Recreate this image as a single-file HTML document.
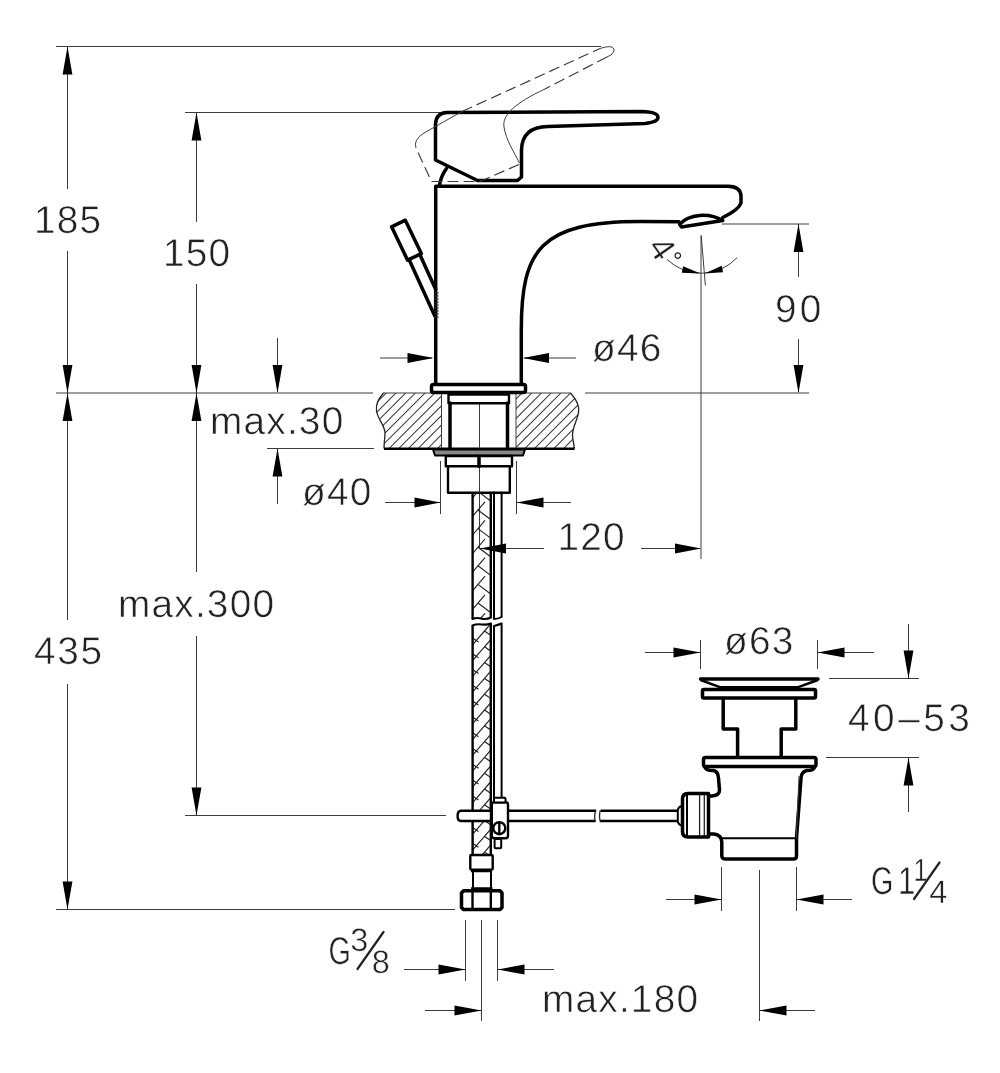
<!DOCTYPE html>
<html lang="en">
<head>
<meta charset="utf-8">
<title>Basin mixer – technical drawing</title>
<style>
html,body{margin:0;padding:0;background:#fff;}
body{width:1000px;height:1073px;overflow:hidden;}
svg{display:block;will-change:transform;filter:grayscale(1);}
svg text{font-family:"Liberation Sans",sans-serif;fill:#222;stroke:#fff;stroke-width:0.6px;paint-order:fill stroke;text-rendering:geometricPrecision;}
.t{stroke:#3c3c3c;stroke-width:1;fill:none;}
.td{stroke:#3c3c3c;stroke-width:1.15;fill:none;stroke-dasharray:11 5;}
.h{stroke:#333;stroke-width:1.05;fill:none;}
.h2{stroke:#222;stroke-width:1.15;fill:none;}
.s{stroke:#222;stroke-width:2.2;fill:none;stroke-linecap:round;}
.a{fill:#000;stroke:none;}
.m{stroke:#222;stroke-width:1.3;fill:none;}
.m2{stroke:#111;stroke-width:1.7;fill:none;}
.k{stroke:#000;stroke-width:3.5;fill:none;stroke-linejoin:round;stroke-linecap:round;}
.k25{stroke:#000;stroke-width:2.4;fill:none;stroke-linejoin:round;}
.k2{stroke:#000;stroke-width:2;fill:none;stroke-linejoin:round;stroke-linecap:round;}
</style>
</head>
<body>
<svg width="1000" height="1073" viewBox="0 0 1000 1073">
<rect x="0" y="0" width="1000" height="1073" fill="#fff"/>
<g id="dims">
<line class="t" x1="56" y1="46.5" x2="601" y2="46.5"/>
<line class="t" x1="185" y1="112.5" x2="443" y2="112.5"/>
<line class="t" x1="56" y1="393" x2="373" y2="393"/>
<line class="t" x1="585" y1="393" x2="809" y2="393"/>
<line class="t" x1="67.5" y1="46" x2="67.5" y2="189"/>
<line class="t" x1="67.5" y1="251" x2="67.5" y2="620"/>
<line class="t" x1="67.5" y1="684" x2="67.5" y2="909"/>
<polygon class="a" points="67.5,46.5 62.6,74.5 72.4,74.5"/>
<polygon class="a" points="67.5,393.0 62.6,365.0 72.4,365.0"/>
<polygon class="a" points="67.5,393.0 62.6,421.0 72.4,421.0"/>
<polygon class="a" points="67.5,909.5 62.6,881.5 72.4,881.5"/>
<line class="t" x1="196.5" y1="112" x2="196.5" y2="222"/>
<line class="t" x1="196.5" y1="284" x2="196.5" y2="572"/>
<line class="t" x1="196.5" y1="636" x2="196.5" y2="815"/>
<polygon class="a" points="196.5,112.5 191.6,140.5 201.4,140.5"/>
<polygon class="a" points="196.5,393.0 191.6,365.0 201.4,365.0"/>
<polygon class="a" points="196.5,393.0 191.6,421.0 201.4,421.0"/>
<polygon class="a" points="196.5,815.5 191.6,787.5 201.4,787.5"/>
<line class="t" x1="185" y1="815.5" x2="446" y2="815.5"/>
<line class="t" x1="56" y1="909.5" x2="455" y2="909.5"/>
<line class="t" x1="277.5" y1="338" x2="277.5" y2="392"/>
<polygon class="a" points="277.5,393.0 272.6,365.0 282.4,365.0"/>
<line class="t" x1="267" y1="448.5" x2="374" y2="448.5"/>
<line class="t" x1="277.5" y1="448" x2="277.5" y2="504"/>
<polygon class="a" points="277.5,448.5 272.6,476.5 282.4,476.5"/>
<line class="t" x1="380" y1="358" x2="432" y2="358"/>
<polygon class="a" points="433.5,358.0 407.5,353.1 407.5,362.9"/>
<line class="t" x1="524" y1="358" x2="576" y2="358"/>
<polygon class="a" points="523.0,358.0 549.0,353.1 549.0,362.9"/>
<line class="t" x1="722" y1="224" x2="809" y2="224"/>
<line class="t" x1="798.5" y1="224" x2="798.5" y2="277"/>
<line class="t" x1="798.5" y1="339" x2="798.5" y2="392"/>
<polygon class="a" points="798.5,224.0 793.6,252.0 803.4,252.0"/>
<polygon class="a" points="798.5,393.0 793.6,365.0 803.4,365.0"/>
<line class="t" x1="701" y1="235.5" x2="701" y2="559"/>
<line class="t" x1="701.2" y1="235.5" x2="705.4" y2="285.5"/>
<line class="t" x1="480" y1="548.5" x2="544" y2="548.5"/>
<polygon class="a" points="480.0,548.5 506.0,543.6 506.0,553.4"/>
<line class="t" x1="641" y1="548.5" x2="700" y2="548.5"/>
<polygon class="a" points="701.0,548.5 675.0,543.6 675.0,553.4"/>
<path class="t" d="M667,259.4 A49.3,49.3 0 0 0 737.2,257.6"/>
<polygon class="a" points="700.5,273.4 681.8,272.8 683.2,266.2"/>
<polygon class="a" points="704.5,273.4 723,272.2 721.8,265.8"/>
<line class="t" x1="385" y1="502.5" x2="440" y2="502.5"/>
<polygon class="a" points="440.5,502.5 414.5,497.6 414.5,507.4"/>
<line class="t" x1="516" y1="502.5" x2="571" y2="502.5"/>
<polygon class="a" points="516.5,502.5 543.5,497.6 543.5,507.4"/>
<line class="t" x1="440.5" y1="461" x2="440.5" y2="514"/>
<line class="t" x1="516.5" y1="461" x2="516.5" y2="514"/>
<line class="t" x1="465.5" y1="920" x2="465.5" y2="981"/>
<line class="t" x1="497.5" y1="920" x2="497.5" y2="981"/>
<line class="t" x1="481.5" y1="920" x2="481.5" y2="1021"/>
<line class="t" x1="404" y1="969.5" x2="465" y2="969.5"/>
<polygon class="a" points="465.5,969.5 438.5,964.6 438.5,974.4"/>
<line class="t" x1="497" y1="969.5" x2="554" y2="969.5"/>
<polygon class="a" points="497.5,969.5 524.5,964.6 524.5,974.4"/>
<line class="t" x1="425" y1="1010.5" x2="481" y2="1010.5"/>
<polygon class="a" points="481.5,1010.5 454.5,1005.6 454.5,1015.4"/>
<line class="t" x1="759" y1="1010.5" x2="815" y2="1010.5"/>
<polygon class="a" points="759.5,1010.5 786.5,1005.6 786.5,1015.4"/>
<line class="t" x1="759.5" y1="870" x2="759.5" y2="1021"/>
<line class="t" x1="721.5" y1="867" x2="721.5" y2="911"/>
<line class="t" x1="796.5" y1="867" x2="796.5" y2="911"/>
<line class="t" x1="666" y1="899.5" x2="721" y2="899.5"/>
<polygon class="a" points="721.5,899.5 694.5,894.6 694.5,904.4"/>
<line class="t" x1="796" y1="899.5" x2="852" y2="899.5"/>
<polygon class="a" points="796.5,899.5 823.5,894.6 823.5,904.4"/>
<line class="t" x1="645" y1="652.5" x2="700" y2="652.5"/>
<polygon class="a" points="700.5,652.5 673.5,647.6 673.5,657.4"/>
<line class="t" x1="817" y1="652.5" x2="874" y2="652.5"/>
<polygon class="a" points="817.5,652.5 844.5,647.6 844.5,657.4"/>
<line class="t" x1="700.5" y1="640" x2="700.5" y2="669"/>
<line class="t" x1="817.5" y1="640" x2="817.5" y2="669"/>
<line class="t" x1="908.5" y1="624" x2="908.5" y2="678"/>
<polygon class="a" points="908.5,678.5 903.6,650.5 913.4,650.5"/>
<line class="t" x1="829" y1="678.5" x2="919" y2="678.5"/>
<line class="t" x1="826" y1="757.5" x2="919" y2="757.5"/>
<line class="t" x1="908.5" y1="757" x2="908.5" y2="812"/>
<polygon class="a" points="908.5,757.5 903.6,785.5 913.4,785.5"/>
</g>
<g id="labels">
<text x="34" y="233" font-size="38.8" letter-spacing="1.2" text-anchor="start">185</text>
<text x="163" y="266" font-size="38.8" letter-spacing="1.2" text-anchor="start">150</text>
<text x="775" y="322" font-size="38.8" letter-spacing="3.2" text-anchor="start">90</text>
<text x="592" y="361" font-size="38.8" letter-spacing="1.2" text-anchor="start">ø46</text>
<text x="210" y="434" font-size="38.8" letter-spacing="1.2" text-anchor="start">max.30</text>
<text x="302" y="505" font-size="38.8" letter-spacing="1.2" text-anchor="start">ø40</text>
<text x="557.5" y="550" font-size="38.8" letter-spacing="1.2" text-anchor="start">120</text>
<text x="118" y="617" font-size="38.8" letter-spacing="1.2" text-anchor="start">max.300</text>
<text x="34" y="664" font-size="38.8" letter-spacing="1.7" text-anchor="start">435</text>
<text x="724" y="654" font-size="38.8" letter-spacing="1.2" text-anchor="start">ø63</text>
<text x="848" y="731" font-size="38.8" letter-spacing="3.5" text-anchor="start">40–53</text>
<text x="542" y="1012" font-size="38.8" letter-spacing="1.2" text-anchor="start">max.180</text>
<text transform="translate(328.5 963.5) scale(0.74 1)" font-size="38.8" style="stroke-width:0.5px">G</text>
<text transform="translate(350.3 950.5) scale(1.0 1)" font-size="32.5" style="stroke-width:0.5px">3</text>
<text transform="translate(371.8 973) scale(1.0 1)" font-size="32.5" style="stroke-width:0.5px">8</text>
<line class="s" x1="357.5" y1="969" x2="383.5" y2="932"/>
<text transform="translate(871 893.5) scale(0.74 1)" font-size="38.8" style="stroke-width:0.5px">G</text>
<text transform="translate(898 893.5) scale(0.8 1)" font-size="38.8" style="stroke-width:0.5px">1</text>
<text transform="translate(913.5 880.5) scale(0.8 1)" font-size="32" style="stroke-width:0.5px">1</text>
<text transform="translate(929.3 903) scale(1.0 1)" font-size="32.5" style="stroke-width:0.5px">4</text>
<line class="s" x1="914" y1="899" x2="939.5" y2="862.5"/>
<text transform="translate(646.8 247) rotate(55)" font-size="35" style="stroke-width:0.4px">4</text>
<text transform="translate(673 269) scale(1 1)" font-size="24" style="stroke-width:0px">°</text>
</g>
<g id="counter">
<defs><clipPath id="cL"><path d="M383.5,393 C379,398 375.5,404 376.5,411 C378,420 385.5,426 385,434 C384.6,440 384,444 384,448.5 L441.5,448.5 L441.5,393 Z"/></clipPath><clipPath id="cR"><path d="M570.5,393 C576,399 580,406 578.5,413 C577,421 572,428 572.5,436 C573,441 574,445 574.5,448.5 L516,448.5 L516,393 Z"/></clipPath></defs>
<g clip-path="url(#cL)">
<line class="h" x1="320.6" y1="449" x2="376.6" y2="393"/>
<line class="h" x1="330.3" y1="449" x2="386.3" y2="393"/>
<line class="h" x1="340.0" y1="449" x2="396.0" y2="393"/>
<line class="h" x1="349.7" y1="449" x2="405.7" y2="393"/>
<line class="h" x1="359.4" y1="449" x2="415.4" y2="393"/>
<line class="h" x1="369.1" y1="449" x2="425.1" y2="393"/>
<line class="h" x1="378.8" y1="449" x2="434.8" y2="393"/>
<line class="h" x1="388.5" y1="449" x2="444.5" y2="393"/>
<line class="h" x1="398.2" y1="449" x2="454.2" y2="393"/>
<line class="h" x1="407.9" y1="449" x2="463.9" y2="393"/>
<line class="h" x1="417.6" y1="449" x2="473.6" y2="393"/>
<line class="h" x1="427.3" y1="449" x2="483.3" y2="393"/>
<line class="h" x1="437.0" y1="449" x2="493.0" y2="393"/>
<line class="h" x1="446.7" y1="449" x2="502.7" y2="393"/>
</g>
<g clip-path="url(#cR)">
<line class="h" x1="466.1" y1="449" x2="522.1" y2="393"/>
<line class="h" x1="475.8" y1="449" x2="531.8" y2="393"/>
<line class="h" x1="485.5" y1="449" x2="541.5" y2="393"/>
<line class="h" x1="495.2" y1="449" x2="551.2" y2="393"/>
<line class="h" x1="504.9" y1="449" x2="560.9" y2="393"/>
<line class="h" x1="514.6" y1="449" x2="570.6" y2="393"/>
<line class="h" x1="524.3" y1="449" x2="580.3" y2="393"/>
<line class="h" x1="534.0" y1="449" x2="590.0" y2="393"/>
<line class="h" x1="543.7" y1="449" x2="599.7" y2="393"/>
<line class="h" x1="553.4" y1="449" x2="609.4" y2="393"/>
<line class="h" x1="563.1" y1="449" x2="619.1" y2="393"/>
<line class="h" x1="572.8" y1="449" x2="628.8" y2="393"/>
<line class="h" x1="582.5" y1="449" x2="638.5" y2="393"/>
</g>
<path class="m" d="M383.5,393 C379,398 375.5,404 376.5,411 C378,420 385.5,426 385,434 C384.6,440 384,444 384,448.5"/>
<path class="m" d="M570.5,393 C576,399 580,406 578.5,413 C577,421 572,428 572.5,436 C573,441 574,445 574.5,448.5"/>
<line class="t" x1="383" y1="393" x2="441.5" y2="393"/>
<line class="t" x1="516" y1="393" x2="571" y2="393"/>
<line class="k25" x1="384" y1="448.7" x2="574.5" y2="448.7"/>
<line class="t" x1="441.5" y1="393" x2="441.5" y2="448"/>
<line class="t" x1="516" y1="393" x2="516" y2="448"/>
</g>
<g id="faucet">
<path class="k" d="M435.7,384 L435.7,186.3 L728,186.3 Q741,186.6 741,196.5 L741,203 Q739,209.5 722.8,217.5 M521.3,384 L521.3,330 C521.3,250 540,221.6 640,221.6 L679,221.8"/>
<path class="k" d="M679.6,224.2 C689,214 709,212.2 722.8,220.6 L681.5,227 Z"/>
<rect class="k" x="431.5" y="384.5" width="94" height="8" rx="2" style="fill:#fff"/>
<path class="k" d="M435.5,160 L435.5,124 Q436,113 447,112.5 L642,111.5 Q658,112 658,117.5 Q658,122 645,123.5 L548,126.5 Q522,127 521.5,150 L521.5,177 L517.5,180.5 L477.5,180.5 Z"/>
<path class="k" d="M446.5,168.5 Q441,176 439.5,185"/>
<path class="t" d="M416,148 Q413,140 424,133 L462,111.5"/>
<path class="td" d="M462,111.5 L600,48.5"/>
<path class="t" d="M600,48.5 Q612,44.5 614,49 Q615,53.5 607,57"/>
<path class="td" d="M607,57 L545,89"/>
<path class="t" d="M545,89 C515,103 502,115 504,127 C506,140 514,152 519.5,163"/>
<path class="td" d="M519,164.5 L480,181.5 L431.5,181.5 L416,148"/>
<path class="k" d="M391.6,226.8 L405.3,220.2 L421.3,253.6 L407.6,260.2 Z"/>
<path class="k" d="M409.3,260 L434.8,316 M420.3,255.5 L435.5,289"/>
<line class="h" x1="433.8" y1="293" x2="438.8" y2="293"/>
<line class="h" x1="433.8" y1="296" x2="438.8" y2="296"/>
<line class="h" x1="433.8" y1="299" x2="438.8" y2="299"/>
<line class="h" x1="433.8" y1="302" x2="438.8" y2="302"/>
<line class="h" x1="433.8" y1="305" x2="438.8" y2="305"/>
<line class="h" x1="433.8" y1="308" x2="438.8" y2="308"/>
<line class="h" x1="433.8" y1="311" x2="438.8" y2="311"/>
<line class="h" x1="433.8" y1="314" x2="438.8" y2="314"/>
<line class="h" x1="433.8" y1="317" x2="438.8" y2="317"/>
</g>
<g id="shank">
<line class="t" x1="479.5" y1="403" x2="479.5" y2="548"/>
<rect class="k25" x="448.5" y="394.5" width="60.5" height="8.7" />
<line class="k" x1="450" y1="403" x2="450" y2="448"/>
<line class="k" x1="507.5" y1="403" x2="507.5" y2="448"/>
<path class="k2" d="M433,449.5 H525 L523,455.5 H435 Z" style="fill:#888"/>
<rect class="k25" x="445.8" y="456" width="66.2" height="10.3"/>
<line class="k" x1="479" y1="456.5" x2="479" y2="466.5"/>
<path class="k25" d="M448,467 V492.8 H509.8 V467"/>
</g>
<g id="hoses">
<defs><clipPath id="hc1"><path d="M472.5,492.5 H491 V617.5 Q486,620 481,618.5 Q476,617.5 472.5,619 Z"/></clipPath><clipPath id="hc2"><path d="M472.5,625.5 Q477,623.5 482,624.5 Q487,625 491,623.5 V855 H472.5 Z"/></clipPath></defs>
<g clip-path="url(#hc1)">
<line class="h2" x1="472.5" y1="479.2" x2="485" y2="464.6"/>
<line class="h2" x1="478" y1="472.8" x2="491" y2="482.6"/>
<line class="h2" x1="472.5" y1="497.8" x2="485" y2="483.2"/>
<line class="h2" x1="478" y1="491.4" x2="491" y2="501.2"/>
<line class="h2" x1="472.5" y1="516.4" x2="485" y2="501.8"/>
<line class="h2" x1="478" y1="510.0" x2="491" y2="519.8"/>
<line class="h2" x1="472.5" y1="535.0" x2="485" y2="520.4"/>
<line class="h2" x1="478" y1="528.6" x2="491" y2="538.4"/>
<line class="h2" x1="472.5" y1="553.6" x2="485" y2="539.0"/>
<line class="h2" x1="478" y1="547.2" x2="491" y2="557.0"/>
<line class="h2" x1="472.5" y1="572.2" x2="485" y2="557.6"/>
<line class="h2" x1="478" y1="565.8" x2="491" y2="575.6"/>
<line class="h2" x1="472.5" y1="590.8" x2="485" y2="576.2"/>
<line class="h2" x1="478" y1="584.4" x2="491" y2="594.2"/>
<line class="h2" x1="472.5" y1="609.4" x2="485" y2="594.8"/>
<line class="h2" x1="478" y1="603.0" x2="491" y2="612.8"/>
<line class="h2" x1="472.5" y1="628.0" x2="485" y2="613.4"/>
<line class="h2" x1="478" y1="621.6" x2="491" y2="631.4"/>
</g>
<g clip-path="url(#hc2)">
<line class="h2" x1="472.5" y1="644.8" x2="491" y2="623.5"/>
<line class="h2" x1="484.5" y1="631.0" x2="491" y2="635.4"/>
<line class="h2" x1="472.5" y1="637.9" x2="478.5" y2="641.9"/>
<line class="h2" x1="472.5" y1="660.6" x2="491" y2="639.3"/>
<line class="h2" x1="484.5" y1="646.8" x2="491" y2="651.2"/>
<line class="h2" x1="472.5" y1="653.7" x2="478.5" y2="657.7"/>
<line class="h2" x1="472.5" y1="676.4" x2="491" y2="655.1"/>
<line class="h2" x1="484.5" y1="662.6" x2="491" y2="667.0"/>
<line class="h2" x1="472.5" y1="669.5" x2="478.5" y2="673.5"/>
<line class="h2" x1="472.5" y1="692.2" x2="491" y2="670.9"/>
<line class="h2" x1="484.5" y1="678.4" x2="491" y2="682.8"/>
<line class="h2" x1="472.5" y1="685.3" x2="478.5" y2="689.3"/>
<line class="h2" x1="472.5" y1="708.0" x2="491" y2="686.7"/>
<line class="h2" x1="484.5" y1="694.2" x2="491" y2="698.6"/>
<line class="h2" x1="472.5" y1="701.1" x2="478.5" y2="705.1"/>
<line class="h2" x1="472.5" y1="723.8" x2="491" y2="702.5"/>
<line class="h2" x1="484.5" y1="710.0" x2="491" y2="714.4"/>
<line class="h2" x1="472.5" y1="716.9" x2="478.5" y2="720.9"/>
<line class="h2" x1="472.5" y1="739.6" x2="491" y2="718.3"/>
<line class="h2" x1="484.5" y1="725.8" x2="491" y2="730.2"/>
<line class="h2" x1="472.5" y1="732.7" x2="478.5" y2="736.7"/>
<line class="h2" x1="472.5" y1="755.4" x2="491" y2="734.1"/>
<line class="h2" x1="484.5" y1="741.6" x2="491" y2="746.0"/>
<line class="h2" x1="472.5" y1="748.5" x2="478.5" y2="752.5"/>
<line class="h2" x1="472.5" y1="771.2" x2="491" y2="749.9"/>
<line class="h2" x1="484.5" y1="757.4" x2="491" y2="761.8"/>
<line class="h2" x1="472.5" y1="764.3" x2="478.5" y2="768.3"/>
<line class="h2" x1="472.5" y1="787.0" x2="491" y2="765.7"/>
<line class="h2" x1="484.5" y1="773.2" x2="491" y2="777.6"/>
<line class="h2" x1="472.5" y1="780.1" x2="478.5" y2="784.1"/>
<line class="h2" x1="472.5" y1="802.8" x2="491" y2="781.5"/>
<line class="h2" x1="484.5" y1="789.0" x2="491" y2="793.4"/>
<line class="h2" x1="472.5" y1="795.9" x2="478.5" y2="799.9"/>
<line class="h2" x1="472.5" y1="818.6" x2="491" y2="797.3"/>
<line class="h2" x1="484.5" y1="804.8" x2="491" y2="809.2"/>
<line class="h2" x1="472.5" y1="811.7" x2="478.5" y2="815.7"/>
<line class="h2" x1="472.5" y1="834.4" x2="491" y2="813.1"/>
<line class="h2" x1="484.5" y1="820.6" x2="491" y2="825.0"/>
<line class="h2" x1="472.5" y1="827.5" x2="478.5" y2="831.5"/>
<line class="h2" x1="472.5" y1="850.2" x2="491" y2="828.9"/>
<line class="h2" x1="484.5" y1="836.4" x2="491" y2="840.8"/>
<line class="h2" x1="472.5" y1="843.3" x2="478.5" y2="847.3"/>
<line class="h2" x1="472.5" y1="866.0" x2="491" y2="844.7"/>
<line class="h2" x1="484.5" y1="852.2" x2="491" y2="856.6"/>
<line class="h2" x1="472.5" y1="859.1" x2="478.5" y2="863.1"/>
</g>
<path class="k25" d="M472.6,492.5 V619 M490.8,492.5 V617.5 M472.6,625.5 V855 M490.8,623.5 V855"/>
<path class="k2" d="M472.5,619 Q476,617.5 481,618.5 Q486,620 491,617.5 M472.5,625.5 Q477,623.5 482,624.5 Q487,625 491,623.5"/>
<path class="k2" d="M494,492.5 V619 Q498,619 501.6,617 V492.5 M494,798 V626 Q498,625 501.6,623.5 V798"/>
</g>
<g id="fit">
<path class="k25" d="M491,810.8 H461 Q457.6,811 457.6,816 Q457.6,821 461,821 H491 Z" style="fill:#fff"/>
<path class="k25" d="M508.5,810.8 H596 M508.5,821 H595"/>
<path class="k25" d="M601,810.8 H677.5 M600,821 H677.5"/>
<path class="m" d="M596,810 Q593.5,816 595.5,822 M600.5,810 Q598.5,816 600.5,822"/>
<rect class="k25" x="491.8" y="802.3" width="16.2" height="36" rx="2.5" style="fill:#fff"/>
<rect class="k2" x="494" y="797.8" width="11.5" height="4.6" rx="1" style="fill:#fff"/>
<circle class="k25" cx="499.3" cy="828.2" r="6"/>
<line class="k25" x1="499.3" y1="822" x2="499.3" y2="834.5"/>
<rect class="k2" x="494.6" y="839" width="6.6" height="9.3" rx="1"/>
<rect class="k25" x="470.3" y="855" width="22.4" height="14.6" rx="1" style="fill:#fff"/>
<path class="k2" d="M473,870 V887 M491,870 V887"/>
<path class="k25" d="M471,871 H492 M471,888.4 H492.5"/>
<path class="k" d="M463.5,890.8 H500 L502,893 V907.5 L500,909.6 H463.5 L461.5,907.5 V893 Z"/>
<line class="k25" x1="472.5" y1="891" x2="472.5" y2="909"/>
<line class="k25" x1="490.8" y1="891" x2="490.8" y2="909"/>
</g>
<g id="drain">
<path class="k" d="M700.5,679 H818"/>
<path class="k25" d="M700.5,680 L720.5,687.3 H797.5 L818,680"/>
<rect class="k" x="702.5" y="689.5" width="113" height="8.5" rx="1.5"/>
<path class="k" d="M723.2,698.5 V729 H737.6 V756 M795.8,698.5 V729 H781.2 V756"/>
<rect class="k" x="703.5" y="757.5" width="112.5" height="9" rx="2"/>
<path class="k" d="M705,767.5 Q706,770.5 713,770.5 Q718,771 718.5,778 L719.5,790 Q719.5,795.5 712,796 L708.5,796 M708.5,834 H714 Q721.5,835 721.8,842 V856 Q722,859 725,859 H793.5 Q796.5,859 796.5,856 V838 L801,778 Q801.5,771.5 807,770.5 Q813.5,770.5 814.5,767.5"/>
<path class="k2" d="M722,838.2 H797"/>
<line class="t" x1="799" y1="776" x2="796.3" y2="838"/>
<path class="k" d="M708.5,794 V837 H688 Q682.5,837 682.5,831.5 V799 Q682.5,793.5 688,793.5 H708.5"/>
<line class="m" x1="704.3" y1="795" x2="704.3" y2="836"/>
<line class="m" x1="699.6" y1="795" x2="699.6" y2="836"/>
<line class="k2" x1="687" y1="795" x2="687" y2="836"/>
<path class="k2" d="M682.5,806 Q677.8,806.5 677.8,811 V820.5 Q677.8,825 682.5,825.5"/>
</g>
</svg>
</body>
</html>
